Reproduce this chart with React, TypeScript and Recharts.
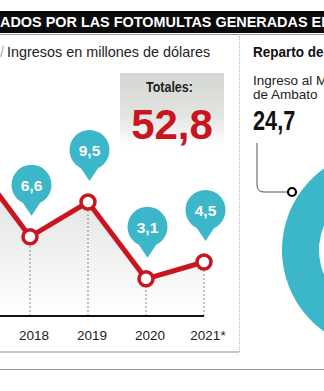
import React from 'react'
import { ComposedChart, Area, Line, XAxis, YAxis, ReferenceLine, LabelList, PieChart, Pie, Cell } from 'recharts'

const years = ['2017', '2018', '2019', '2020', '2021*']
const ingresos = [13.1, 6.6, 9.5, 3.1, 4.5]
const total = '52,8'

const reparto = ['Ingreso al Municipio', 'Otros']
const repartoValues = [24.7, 28.1]

const RED = '#c8151f'
const TEAL = '#3cb6c9'
const SANS = '"Liberation Sans", Arial, sans-serif'
const CHART_LEFT = -40

const data = years.map((year, i) => ({ year, value: ingresos[i] }))
const pieData = reparto.map((name, i) => ({ name, value: repartoValues[i] }))
const pieColors = [TEAL, '#9aa0a6']

function fmt(v: number): string {
    return String(v).replace('.', ',')
}

// condensed look, the narrow fonts are not installed
const Narrow: React.FC<{ scale: number, children: React.ReactNode }> = ({ scale, children }) => (
    <span style={{ display: 'inline-block', transform: `scaleX(${scale})`, transformOrigin: 'left center', whiteSpace: 'nowrap' }}>{children}</span>
)

const Balloon = (props: any) => {
    const { x, y, value } = props
    // the 2017 balloon falls outside the cropped page
    if (x == null || y == null || x + CHART_LEFT + 22 < 0) return null
    const cx = x + 1.5
    const cy = y - 52
    const tip = y - 21
    return (
        <g>
            <circle cx={cx} cy={cy} r={20} fill={TEAL} />
            <path d={`M${cx - 9} ${cy + 17.5} L${cx + 9} ${cy + 17.5} L${cx} ${tip} Z`} fill={TEAL} />
            <text x={cx} y={cy + 6} textAnchor="middle" fill="#fff" fontFamily={SANS} fontWeight="bold" fontSize={15.5}>
                {fmt(value)}
            </text>
        </g>
    )
}

const YearTick = (props: any) => {
    const { x, y, payload } = props
    if (x + CHART_LEFT < 10) return null
    return (
        <text x={x + 4} y={y} dy="0.71em" textAnchor="middle" fill="#222" fontFamily={SANS} fontSize={13.5}>
            {payload.value}
        </text>
    )
}

const App: React.FC = () => {
    return (
        <div style={{ position: 'absolute', left: 0, top: 0, width: 324, height: 391, overflow: 'hidden', background: '#fff', fontFamily: SANS }}>
            {/* header bar */}
            <div style={{ position: 'absolute', left: 0, top: 11, width: 324, height: 22, background: '#0a0a0a', color: '#fff', fontWeight: 'bold', fontSize: 15.5, lineHeight: '22px', whiteSpace: 'nowrap', overflow: 'hidden' }}>
                <Narrow scale={0.93}>ADOS POR LAS FOTOMULTAS GENERADAS EN</Narrow>
            </div>
            <div style={{ position: 'absolute', left: 0, top: 34, width: 324, height: 1, background: '#9a9a9a' }} />
            <div style={{ position: 'absolute', left: 239, top: 36, height: 316, borderLeft: '1px dotted #bbb' }} />

            <div style={{ position: 'absolute', left: 0, top: 44, fontSize: 14, color: '#aaa' }}>/</div>
            <div style={{ position: 'absolute', left: 7, top: 44, fontSize: 14.4, color: '#222', whiteSpace: 'nowrap' }}>
                Ingresos en millones de dólares
            </div>

            {/* totals box */}
            <div style={{ position: 'absolute', left: 120, top: 73, width: 104, height: 72, background: 'linear-gradient(#d4d6d1, #e3e5e1 60%, #ffffff)' }}>
                <div style={{ position: 'absolute', left: 26, top: 6, fontWeight: 'bold', fontSize: 14.5, color: '#222' }}>
                    <Narrow scale={0.86}>Totales:</Narrow>
                </div>
                <div style={{ position: 'absolute', left: 0, top: 31, width: 104, textAlign: 'center', fontWeight: 'bold', fontSize: 42, lineHeight: '42px', color: RED }}>{total}</div>
            </div>

            <ComposedChart width={284} height={256} data={data} margin={{ top: 24, right: 40, left: 12, bottom: 10 }}
                style={{ position: 'absolute', left: CHART_LEFT, top: 100 }}>
                <defs>
                    <linearGradient id="areaGrad" x1="0" y1="0" x2="0" y2="1">
                        <stop offset="0%" stopColor="#c4c8bf" />
                        <stop offset="100%" stopColor="#ffffff" />
                    </linearGradient>
                </defs>
                <XAxis dataKey="year" axisLine={{ stroke: '#111', strokeWidth: 2 }} tickLine={false} tickMargin={8} height={30} interval={0} tick={<YearTick />} />
                <YAxis hide domain={[0, 16]} />
                <Area dataKey="value" stroke="none" fill="url(#areaGrad)" isAnimationActive={false} />
                {data.map((d) => (
                    <ReferenceLine key={d.year} segment={[{ x: d.year, y: 0 }, { x: d.year, y: d.value }]} stroke="#888" strokeDasharray="2 2" strokeWidth={1} />
                ))}
                <Line dataKey="value" stroke={RED} strokeWidth={5} isAnimationActive={false}
                    dot={{ r: 7, fill: '#fff', stroke: RED, strokeWidth: 3.5 }}>
                    <LabelList dataKey="value" content={<Balloon />} />
                </Line>
            </ComposedChart>

            <div style={{ position: 'absolute', left: 0, top: 351, width: 239, height: 2, background: '#c8c8c8' }} />
            <div style={{ position: 'absolute', left: 0, top: 369, width: 324, height: 1, background: '#999' }} />

            {/* right panel */}
            <div style={{ position: 'absolute', left: 253, top: 43, fontWeight: 'bold', fontSize: 15.5, color: '#111' }}>
                <Narrow scale={0.87}>Reparto de los ingresos</Narrow>
            </div>
            <div style={{ position: 'absolute', left: 253, top: 74, fontSize: 13.5, lineHeight: '14px', color: '#222', whiteSpace: 'nowrap' }}>
                Ingreso al Municipio<br />de Ambato
            </div>
            <div style={{ position: 'absolute', left: 253, top: 105, fontWeight: 'bold', fontSize: 27.5, color: '#111' }}>
                <Narrow scale={0.79}>{fmt(repartoValues[0])}</Narrow>
            </div>

            <PieChart width={240} height={240} style={{ position: 'absolute', left: 257, top: 125 }}>
                <Pie data={pieData} dataKey="value" cx={120} cy={120} innerRadius={63} outerRadius={100} startAngle={90} endAngle={450} stroke="none" isAnimationActive={false}>
                    {pieData.map((d, i) => <Cell key={d.name} fill={pieColors[i]} />)}
                </Pie>
            </PieChart>

            <svg width={84} height={80} style={{ position: 'absolute', left: 240, top: 130 }}>
                <path d="M17 13 V55 Q17 62 24 62 H48" fill="none" stroke="#555" strokeWidth={1} />
                <circle cx={52} cy={62} r={4} fill="#fff" stroke="#000" strokeWidth={2.2} />
            </svg>
        </div>
    )
}

export default App
